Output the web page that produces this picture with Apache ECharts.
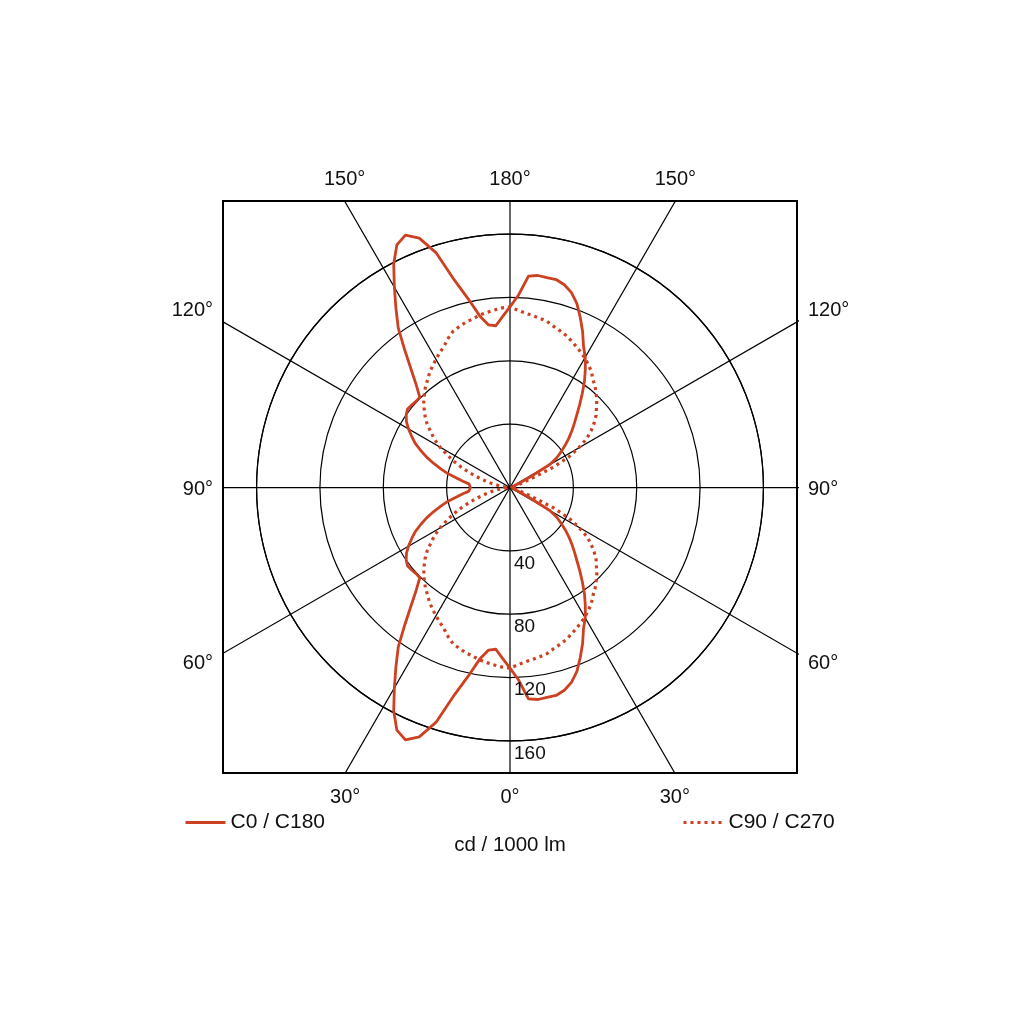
<!DOCTYPE html>
<html><head><meta charset="utf-8">
<script src="https://cdn.jsdelivr.net/npm/echarts@6/dist/echarts.min.js"></script>
<style>html,body{margin:0;padding:0;background:#fff;}#c{width:1024px;height:1024px;}</style>
</head><body><div id="c"></div>
<script>
// gamma angle (deg, 0 = down, 180 = up)
const gamma = [0,2.5,5,7.5,10,12.5,15,17.5,20,22.5,25,27.5,30,32.5,35,37.5,40,42.5,45,47.5,50,52.5,55,57.5,60,62.5,65,67.5,70,72.5,75,77.5,80,82.5,85,87.5,90,92.5,95,97.5,100,102.5,105,107.5,110,112.5,115,117.5,120,122.5,125,127.5,130,132.5,135,137.5,140,142.5,145,147.5,150,152.5,155,157.5,160,162.5,165,167.5,170,172.5,175,177.5,180];
// luminous intensity, cd / 1000 lm
const cd_C0 = [114,121.5,134,135,134.5,134.5,132.5,129,123.5,116,108.5,100.5,95,88.5,82,75,68.5,62.5,57.5,53,48.5,44,39.5,35,29,14,7,4,2.5,1.5,1,0.5,0,0,0,0,
0,0,0,0,0,0.5,1,1.5,2.5,4,7,14,29,35,39.5,44,48.5,53,57.5,62.5,68.5,75,82,88.5,95,100.5,108.5,116,123.5,129,132.5,134.5,134.5,135,134,121.5,114];
const cd_C180 = [114,108,102.5,103.5,110,122,135.5,155.5,167.5,172.5,169,159,146,134,123,109,97,87.5,80.5,80.5,81,81.5,80,77.5,74,70,66,61,56,50.5,45,40,34,30,26,25,
25,25,26,30,34,40,45,50.5,56,61,66,70,74,77.5,80,81.5,81,80.5,80.5,87.5,97,109,123,134,146,159,169,172.5,167.5,155.5,135.5,122,110,103.5,102.5,108,114];
const cd_C90 = [114,112,110.5,109.5,108.5,107.5,105.5,104,102.5,100.5,98.5,96.5,94.5,92,89.5,86,83.5,80.5,77.5,74,71,67,62.5,57.5,50,42,30,14,7,4,2.5,1.5,1,0.5,0,0,
0,0,0,0.5,1,1.5,2.5,4,7,14,30,42,50,57.5,62.5,67,71,74,77.5,80.5,83.5,86,89.5,92,94.5,96.5,98.5,100.5,102.5,104,105.5,107.5,108.5,109.5,110.5,112,114];
const cd_C270 = [114,113.5,112.5,111.5,110.5,109,108,106.5,105,102,98.5,96,93.5,91,88.5,85.5,83,80,77,73.5,70,66,61,56.5,51,45,39,33,27,21,16,12,8,5,3,1,
0,1,3,5,8,12,16,21,27,33,39,45,51,56.5,61,66,70,73.5,77,80,83,85.5,88.5,91,93.5,96,98.5,102,105,106.5,108,109,110.5,111.5,112.5,113.5,114];

const ringValues = [40, 80, 120, 160];
const ringLabels = ['40', '80', '120', '160'];
const spokeAngles = [0, 30, 60, 90, 120, 150];
const angleTicks = [0, 30, 60, 90, 120, 150, 180];
const angleTickLabels = ['0°', '30°', '60°', '90°', '120°', '150°', '180°'];
const seriesNames = ['C0 / C180', 'C90 / C270'];
const unitLabel = 'cd / 1000 lm';

const RED = '#cc4122';
const TXT = '#111';
const FONT = 'Liberation Sans, Arial, sans-serif';

const PX_PER_CD = 1.584;
const CX = 510, CY = 487.5;
// axis extents (equal px per cd in both directions)
const X_MIN = -181.2, X_MAX = 181.2, Y_MIN = -180.2, Y_MAX = 180.9;
const DATA_RMAX = 200;

// polar loop: left half value = 360 - gamma, right half value = gamma
function loop(rightVals, leftVals) {
  const pts = [];
  for (let i = 0; i < gamma.length; i++) pts.push([leftVals[i], 360 - gamma[i]]);
  for (let i = gamma.length - 1; i >= 0; i--) pts.push([rightVals[i], gamma[i]]);
  return pts;
}

const rad = d => d * Math.PI / 180;

// spokes (clipped by the grid box)
const spokeSeries = spokeAngles.map(a => ({
  type: 'line', xAxisIndex: 0, yAxisIndex: 0, symbol: 'none', silent: true, clip: true, z: 1,
  lineStyle: { color: '#000', width: 1.2 },
  data: [[400 * Math.sin(rad(a)), -400 * Math.cos(rad(a))], [-400 * Math.sin(rad(a)), 400 * Math.cos(rad(a))]]
}));

// angle labels at the box edge
const angleLabelData = [];
angleTicks.forEach((g, i) => {
  const sides = (g === 0 || g === 180) ? [1] : [-1, 1];
  sides.forEach(s => {
    const dx = s * Math.sin(rad(g)), dy = -Math.cos(rad(g));
    const tx = Math.abs(dx) > 1e-9 ? X_MAX / Math.abs(dx) : Infinity;
    const ty = Math.abs(dy) > 1e-9 ? (dy > 0 ? Y_MAX : -Y_MIN) / Math.abs(dy) : Infinity;
    const t = Math.min(tx, ty);
    let label;
    if (ty <= tx) {
      label = dy > 0 ? { position: 'top', distance: 12 } : { position: 'bottom', distance: 14 };
    } else {
      const off = dy > 1e-9 ? -11 : (dy < -1e-9 ? 10 : 2);
      label = s < 0 ? { position: 'left', distance: 10, offset: [0, off] } : { position: 'right', distance: 11, offset: [0, off] };
    }
    angleLabelData.push({ value: [t * dx, t * dy], name: angleTickLabels[i], label });
  });
});

const hiddenAngle = {
  type: 'value', min: 0, max: 360, startAngle: 270, clockwise: false,
  axisTick: { show: false }, axisLabel: { show: false }, splitLine: { show: false }
};

const legendBase = {
  itemWidth: 40, itemHeight: 22, selectedMode: false, top: 807,
  itemStyle: { opacity: 0 },
  lineStyle: { width: 3, opacity: 1 },
  textStyle: { fontSize: 21, color: TXT, fontFamily: FONT }
};

const labelText = { show: true, formatter: '{b}', color: TXT, fontFamily: FONT,
  opacity: 1, textBorderWidth: 0, textShadowBlur: 0 };

const chart = echarts.init(document.getElementById('c'));
chart.setOption({
  animation: false,
  backgroundColor: '#fff',
  textStyle: { fontFamily: FONT },
  grid: { left: 223, top: 201, width: 574, height: 572, show: true, borderColor: '#000', borderWidth: 2, backgroundColor: 'transparent', z: 3 },
  xAxis: {
    type: 'value', min: X_MIN, max: X_MAX,
    axisLine: { show: false }, axisTick: { show: false }, axisLabel: { show: false }, splitLine: { show: false },
    name: unitLabel, nameLocation: 'middle', nameGap: 62,
    nameTextStyle: { fontSize: 20.5, color: TXT, fontFamily: FONT }
  },
  yAxis: {
    type: 'value', min: Y_MIN, max: Y_MAX,
    axisLine: { show: false }, axisTick: { show: false }, axisLabel: { show: false }, splitLine: { show: false }
  },
  polar: [
    { center: [CX, CY], radius: ringValues[ringValues.length - 1] * PX_PER_CD },
    { center: [CX, CY], radius: DATA_RMAX * PX_PER_CD }
  ],
  angleAxis: [
    Object.assign({ polarIndex: 0, axisLine: { show: true, lineStyle: { color: '#000', width: 1.2 } } }, hiddenAngle),
    Object.assign({ polarIndex: 1, axisLine: { show: false } }, hiddenAngle)
  ],
  radiusAxis: [
    {
      polarIndex: 0, type: 'value', min: 0, max: ringValues[ringValues.length - 1], interval: ringValues[0],
      axisLine: { show: false }, axisTick: { show: false }, axisLabel: { show: false },
      splitLine: { show: true, lineStyle: { color: '#000', width: 1.2 } }
    },
    {
      polarIndex: 1, type: 'value', min: 0, max: DATA_RMAX,
      axisLine: { show: false }, axisTick: { show: false }, axisLabel: { show: false }, splitLine: { show: false }
    }
  ],
  legend: [
    Object.assign({ data: [seriesNames[0]], left: 179 }, legendBase),
    Object.assign({ data: [seriesNames[1]], left: 677 }, legendBase)
  ],
  series: [
    ...spokeSeries,
    {
      name: seriesNames[1], type: 'line', coordinateSystem: 'polar', polarIndex: 1,
      symbol: 'none', silent: true, z: 5,
      lineStyle: { color: RED, width: 3.2, type: [3, 4], cap: 'butt' },
      itemStyle: { color: RED },
      data: loop(cd_C90, cd_C270)
    },
    {
      name: seriesNames[0], type: 'line', coordinateSystem: 'polar', polarIndex: 1,
      symbol: 'none', silent: true, z: 6,
      lineStyle: { color: RED, width: 2.8, join: 'round' },
      itemStyle: { color: RED },
      data: loop(cd_C0, cd_C180)
    },
    {
      type: 'scatter', xAxisIndex: 0, yAxisIndex: 0, clip: false, silent: true, z: 8,
      symbolSize: 0, itemStyle: { color: TXT, opacity: 1 },
      label: Object.assign({ fontSize: 20 }, labelText),
      data: angleLabelData
    },
    {
      type: 'scatter', xAxisIndex: 0, yAxisIndex: 0, clip: false, silent: true, z: 8,
      symbolSize: 0, itemStyle: { color: TXT, opacity: 1 },
      label: Object.assign({ position: [4, 3], align: 'left', verticalAlign: 'top', fontSize: 19 }, labelText),
      data: ringValues.map((v, i) => ({ value: [0, -v], name: ringLabels[i] }))
    }
  ]
});
</script>
</body></html>
